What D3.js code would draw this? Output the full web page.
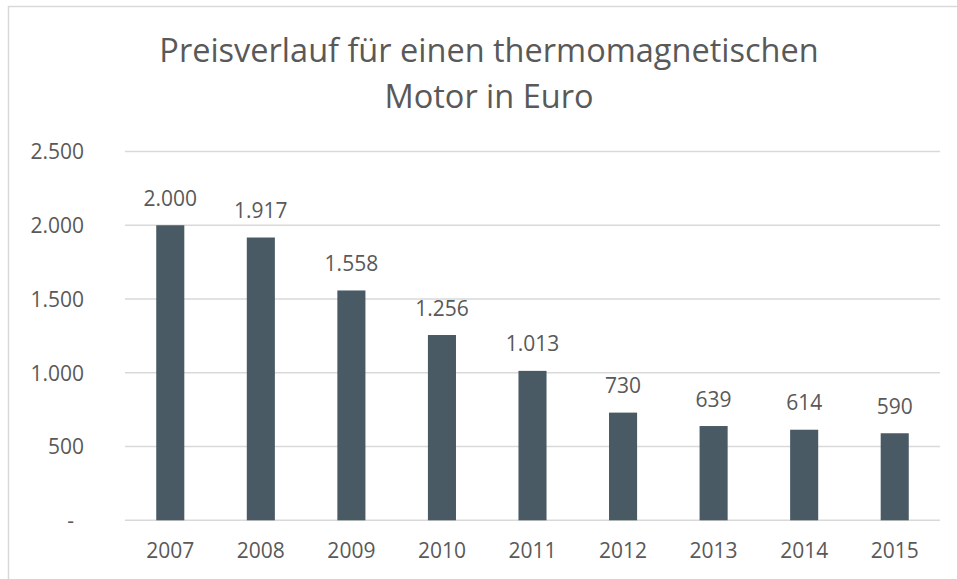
<!DOCTYPE html>
<html>
<head>
<meta charset="utf-8">
<script src="https://cdn.jsdelivr.net/npm/d3@7"></script>
<style>
  body { margin: 0; background: #fff; }
  text { font-family: "Open Sans", sans-serif; fill: #595959; }
</style>
</head>
<body>
<script>
var years = ["2007", "2008", "2009", "2010", "2011", "2012", "2013", "2014", "2015"];
var prices = [2000, 1917, 1558, 1256, 1013, 730, 639, 614, 590];
var yTicks = [0, 500, 1000, 1500, 2000, 2500];
var titleLines = ["Preisverlauf für einen thermomagnetischen", "Motor in Euro"];

var W = 957, H = 579;
var margin = {top: 151.5, right: 17, bottom: 58.7, left: 125},
    width = W - margin.left - margin.right,
    height = H - margin.top - margin.bottom;

var fmt = function(v) {
  return v === 0 ? "-" : d3.format(",")(v).replace(/,/g, ".");
};

var svg = d3.select("body").append("svg")
    .attr("width", W)
    .attr("height", H);

// chart border (runs off the right and bottom edge)
svg.append("rect")
    .attr("x", 8.5).attr("y", 6.5)
    .attr("width", 1200).attr("height", 1200)
    .attr("fill", "none")
    .attr("stroke", "#d9d9d9")
    .attr("stroke-width", 1.5);

svg.selectAll(".title")
    .data(titleLines)
  .enter().append("text")
    .attr("class", "title")
    .attr("x", 489)
    .attr("y", function(d, i) { return 62 + i * 46; })
    .attr("text-anchor", "middle")
    .style("font-size", "32.5px")
    .text(function(d) { return d; });

var g = svg.append("g")
    .attr("transform", "translate(" + margin.left + "," + margin.top + ")");

var x = d3.scaleBand().domain(years).range([0, width])
    .paddingInner(0.69).paddingOuter(0.345);
var y = d3.scaleLinear().domain([0, 2500]).range([height, 0]);

// gridlines
g.selectAll(".grid")
    .data(yTicks)
  .enter().append("line")
    .attr("x1", 0).attr("x2", width)
    .attr("y1", function(d) { return y(d); })
    .attr("y2", function(d) { return y(d); })
    .attr("stroke", "#d9d9d9")
    .attr("stroke-width", 1.5);

// y axis labels
var yAxis = g.append("g")
    .call(d3.axisLeft(y).tickValues(yTicks).tickSize(0).tickPadding(41).tickFormat(fmt));
yAxis.select(".domain").remove();
yAxis.selectAll("text")
    .style("font-size", "21px")
    .attr("fill", "#595959")
    .attr("dy", "0.35em")
    .attr("dx", function(d) { return d === 0 ? -10 : 0; });

// x axis labels
var xAxis = g.append("g")
    .attr("transform", "translate(0," + height + ")")
    .call(d3.axisBottom(x).tickSize(0).tickPadding(23));
xAxis.select(".domain").remove();
xAxis.selectAll("text")
    .style("font-size", "21px")
    .attr("fill", "#595959");

g.selectAll(".bar")
    .data(prices)
  .enter().append("rect")
    .attr("class", "bar")
    .attr("x", function(d, i) { return x(years[i]); })
    .attr("width", x.bandwidth())
    .attr("y", function(d) { return y(d); })
    .attr("height", function(d) { return height - y(d); })
    .attr("fill", "#4a5a65");

g.selectAll(".label")
    .data(prices)
  .enter().append("text")
    .attr("class", "label")
    .attr("x", function(d, i) { return x(years[i]) + x.bandwidth() / 2; })
    .attr("y", function(d) { return y(d) - 19.5; })
    .attr("text-anchor", "middle")
    .style("font-size", "21px")
    .text(fmt);
</script>
</body>
</html>
